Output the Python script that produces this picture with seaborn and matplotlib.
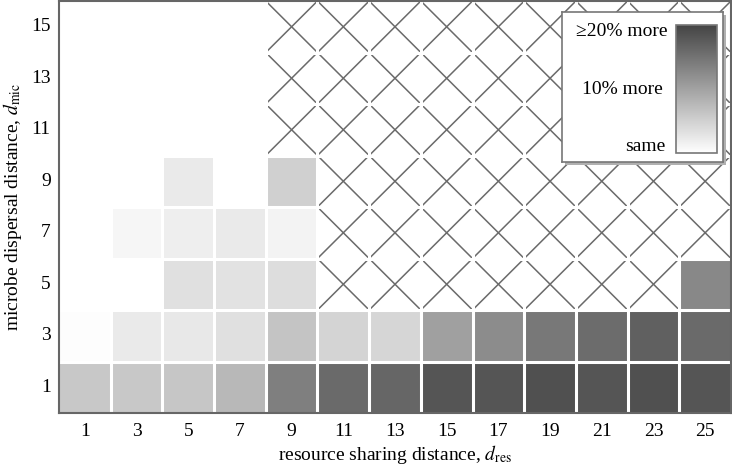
import numpy as np
import pandas as pd
import seaborn as sns
import matplotlib.pyplot as plt
from matplotlib.colors import LinearSegmentedColormap
from matplotlib.patches import Rectangle

plt.rcParams['font.family'] = ['Liberation Serif', 'DejaVu Serif']
plt.rcParams['mathtext.fontset'] = 'stix'

nan = np.nan

# axes values
d_res = [1, 3, 5, 7, 9, 11, 13, 15, 17, 19, 21, 23, 25]
d_mic = [1, 3, 5, 7, 9, 11, 13, 15]

# % more (0 = same, 20 = >=20% more), one list per d_mic row, bottom to top
row_1 = [5.9, 5.9, 6.1, 7.6, 13.6, 15.9, 16.3, 18.2, 18.2, 18.7, 18.2, 18.7, 18.2]
row_3 = [0.3, 2.2, 2.5, 3.3, 6.3, 4.6, 4.4, 10.2, 12.3, 14.4, 15.7, 17.0, 15.9]
row_5 = [nan, nan, 3.3, 3.1, 3.7, nan, nan, nan, nan, nan, nan, nan, 12.7]
row_7 = [nan, 1.0, 1.8, 2.2, 1.4, nan, nan, nan, nan, nan, nan, nan, nan]
row_9 = [nan, nan, 2.2, nan, 5.0, nan, nan, nan, nan, nan, nan, nan, nan]
row_11 = [nan] * 13
row_13 = [nan] * 13
row_15 = [nan] * 13

# cells that are crossed out (hatched)
hatch_1 = [0] * 13
hatch_3 = [0] * 13
hatch_5 = [0, 0, 0, 0, 0, 1, 1, 1, 1, 1, 1, 1, 0]
hatch_7 = [0, 0, 0, 0, 0, 1, 1, 1, 1, 1, 1, 1, 1]
hatch_9 = [0, 0, 0, 0, 0, 1, 1, 1, 1, 1, 1, 1, 1]
hatch_11 = [0, 0, 0, 0, 1, 1, 1, 1, 1, 1, 1, 1, 1]
hatch_13 = [0, 0, 0, 0, 1, 1, 1, 1, 1, 1, 1, 1, 1]
hatch_15 = [0, 0, 0, 0, 1, 1, 1, 1, 1, 1, 1, 1, 1]

vals = pd.DataFrame([row_1, row_3, row_5, row_7, row_9, row_11, row_13, row_15],
                    index=d_mic, columns=d_res)
hatch = np.array([hatch_1, hatch_3, hatch_5, hatch_7, hatch_9, hatch_11, hatch_13, hatch_15])

cmap = LinearSegmentedColormap.from_list('greys', ['#ffffff', '#444444'])

fig = plt.figure(figsize=(7.32, 4.68), dpi=100)
ax = fig.add_axes([59 / 732, 55 / 468, 672 / 732, 412 / 468])
cax = fig.add_axes([676 / 732, 315 / 468, 41 / 732, 128 / 468], zorder=4)

sns.heatmap(vals, ax=ax, cmap=cmap, vmin=0, vmax=20, mask=vals.isna(),
            cbar_ax=cax, linewidths=0)
ax.invert_yaxis()

# crossed cells
for i, j in zip(*np.nonzero(hatch)):
    ax.plot([j, j + 1], [i, i + 1], color='#6a6a6a', lw=1.1, zorder=1.5)
    ax.plot([j, j + 1], [i + 1, i], color='#6a6a6a', lw=1.1, zorder=1.5)

# white gaps between cells
for k in range(1, len(d_res)):
    ax.axvline(k, color='white', lw=2.2, zorder=2)
for k in range(1, len(d_mic)):
    ax.axhline(k, color='white', lw=2.2, zorder=2)

for s in ax.spines.values():
    s.set_visible(True)
    s.set_color('#666666')
    s.set_linewidth(1.5)

ax.set_xticklabels(d_res, fontsize=14, rotation=0)
ax.set_yticklabels(d_mic, fontsize=14, rotation=0)
ax.tick_params(axis='x', length=0, pad=7)
ax.tick_params(axis='y', length=0, pad=6)
ax.set_xticks(np.arange(1, len(d_res)), minor=True)
ax.tick_params(axis='x', which='minor', top=True, bottom=False, direction='in',
               length=3, color='#666666')
ax.set_xlabel('resource sharing distance, $d_{\\mathrm{res}}$', fontsize=14, labelpad=2)
ax.set_ylabel('microbe dispersal distance, $d_{\\mathrm{mic}}$', fontsize=14, labelpad=5)

# legend box
box = fig.add_axes([562 / 732, 306 / 468, 161 / 732, 150 / 468], zorder=3)
box.set_xticks([])
box.set_yticks([])
for s in box.spines.values():
    s.set_color('#777777')
    s.set_linewidth(1.2)
fig.patches.append(Rectangle((565 / 732, 303 / 468), 161 / 732, 150 / 468,
                             transform=fig.transFigure, facecolor='#b0b0b0',
                             edgecolor='none', zorder=2.5))

cbar = ax.collections[0].colorbar
cax.set_yticks([])
cbar.outline.set_edgecolor('#777777')
cbar.outline.set_linewidth(1.2)
tr = cax.get_yaxis_transform()
cax.text(-0.2, 19.0, '≥20% more', transform=tr, ha='right', va='center', fontsize=14)
cax.text(-0.32, 10.0, '10% more', transform=tr, ha='right', va='center', fontsize=14)
cax.text(-0.27, 1.0, 'same', transform=tr, ha='right', va='center', fontsize=14)

fig.savefig('out.png', dpi=100)
